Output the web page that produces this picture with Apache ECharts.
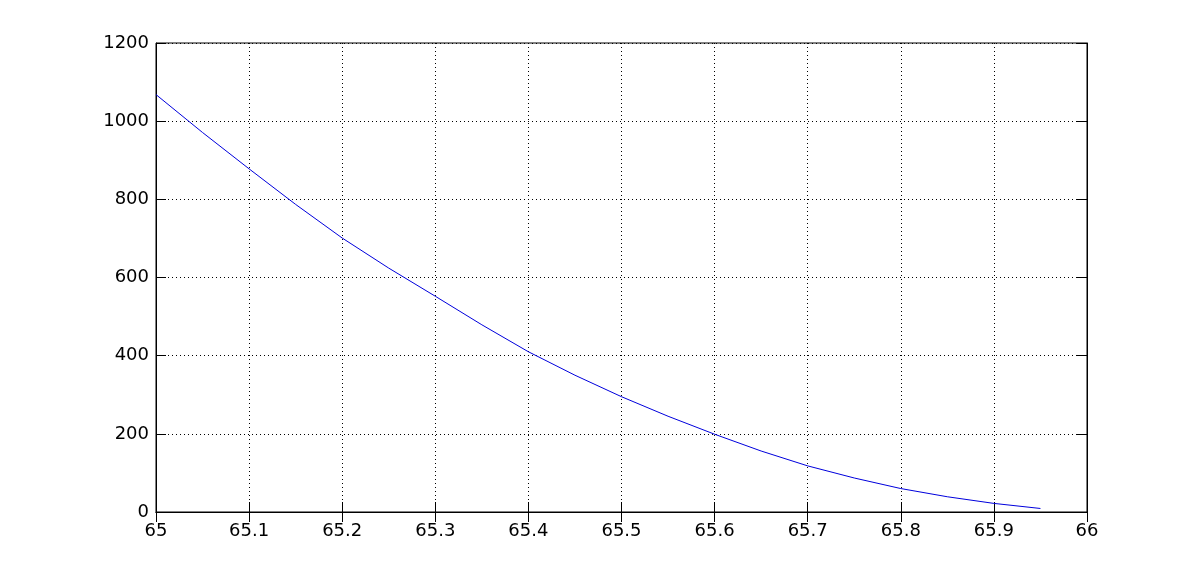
<!DOCTYPE html>
<html>
<head>
<meta charset="utf-8">
<script src="https://cdn.jsdelivr.net/npm/echarts@6/dist/echarts.min.js"></script>
<style>html,body{margin:0;padding:0;background:#fff;}#c{width:1201px;height:575px;}</style>
</head>
<body>
<div id="c"></div>
<script>
var xValues = [65.00, 65.05, 65.10, 65.15, 65.20, 65.25, 65.30, 65.35, 65.40, 65.45, 65.50, 65.55, 65.60, 65.65, 65.70, 65.75, 65.80, 65.85, 65.90, 65.95];
var yValues = [1068, 971, 878, 787, 701, 624, 552, 479, 410, 350, 295, 245, 199, 156, 118, 87, 60, 39, 22, 9];
var xTicks = [65, 65.1, 65.2, 65.3, 65.4, 65.5, 65.6, 65.7, 65.8, 65.9, 66];
var yTicks = [0, 200, 400, 600, 800, 1000, 1200];

var chart = echarts.init(document.getElementById('c'), null, {renderer: 'canvas'});
var font = {fontFamily: 'DejaVu Sans, sans-serif', fontSize: 18, color: '#000'};
var data = xValues.map(function (x, i) { return [x, yValues[i]]; });
var dotted = {show: true, lineStyle: {color: '#000', width: 1, type: [1, 3]}};
function fmtX(v) { var s = Math.round(v * 10) / 10; return xTicks.indexOf(s) >= 0 ? String(s) : ''; }
chart.setOption({
  animation: false,
  backgroundColor: '#fff',
  grid: {left: 156, right: 114, top: 43, bottom: 63, show: true, borderColor: '#000', borderWidth: 1, backgroundColor: 'transparent'},
  xAxis: [{
    type: 'value', min: 65, max: 66, interval: 0.1, position: 'bottom',
    axisLine: {show: true, lineStyle: {color: '#000', width: 1}},
    axisTick: {show: true, inside: true, length: 10, lineStyle: {color: '#000'}},
    axisLabel: Object.assign({margin: 10, formatter: fmtX}, font),
    splitLine: dotted
  }, {
    type: 'value', min: 65, max: 66, interval: 0.1, position: 'top',
    axisLine: {show: true, lineStyle: {color: '#000', width: 1}},
    axisTick: {show: true, inside: true, length: 10, lineStyle: {color: '#000'}},
    axisLabel: {show: false}, splitLine: {show: false}
  }],
  yAxis: [{
    type: 'value', min: 0, max: 1200, interval: 200, position: 'left',
    axisLine: {show: true, lineStyle: {color: '#000', width: 1}},
    axisTick: {show: true, inside: true, length: 10, lineStyle: {color: '#000'}},
    axisLabel: Object.assign({margin: 7, formatter: function (v) { return yTicks.indexOf(v) >= 0 ? String(v) : ''; }}, font),
    splitLine: dotted
  }, {
    type: 'value', min: 0, max: 1200, interval: 200, position: 'right',
    axisLine: {show: true, lineStyle: {color: '#000', width: 1}},
    axisTick: {show: true, inside: true, length: 10, lineStyle: {color: '#000'}},
    axisLabel: {show: false}, splitLine: {show: false}
  }],
  series: [{
    type: 'line', data: data, xAxisIndex: 0, yAxisIndex: 0,
    smooth: false, showSymbol: false, symbol: 'none',
    lineStyle: {color: '#0000dd', width: 1}
  }]
});
</script>
</body>
</html>
